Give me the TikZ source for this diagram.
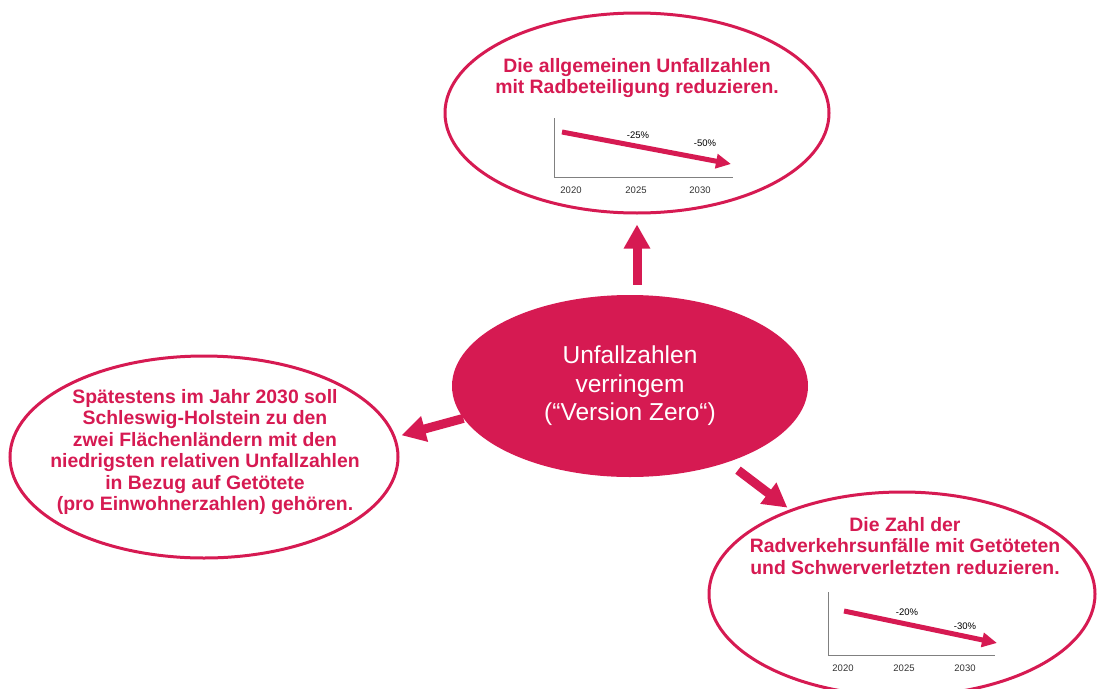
\documentclass[tikz,border=0pt]{standalone}
\usepackage{fontspec}
\setmainfont{Liberation Sans}
\usepackage{xcolor}
\usetikzlibrary{shapes.geometric}
\usetikzlibrary{positioning, arrows.meta}
\definecolor{unfallred}{RGB}{214,26,82}

\begin{document}
\begin{tikzpicture}[x=1pt,y=-1pt]
    % Define the styles
    \tikzstyle{goal}=[ellipse, draw=unfallred, line width=3pt, inner sep=0pt];
    \tikzstyle{goal text}=[text=unfallred, align=center, font=\bfseries\fontsize{19.4}{21.5}\selectfont];
    \tikzstyle{link}=[draw=unfallred, line width=9pt, -{Triangle[length=24pt,width=25pt]}];
    \tikzstyle{trend}=[draw=unfallred, line width=5pt, -{Triangle[length=15pt,width=14pt]}];
    \tikzstyle{axis}=[draw=gray, line width=0.8pt];
    \tikzstyle{year}=[text=black!80, font=\fontsize{9.5}{11}\selectfont];
    \tikzstyle{percent}=[text=black, font=\fontsize{9.5}{11}\selectfont];

    \useasboundingbox (0,0) rectangle (1097,688);

    % Central goal
    \node[ellipse, fill=unfallred, inner sep=0pt, minimum width=356pt, minimum height=182pt,
          text=white, align=center, font=\fontsize{24.5}{28.5}\selectfont]
          (zero) at (630,386) {Unfallzahlen\\verringem\\(“Version Zero“)};

    % Sub goals
    \node[goal, minimum width=384pt, minimum height=200pt] (allg) at (637,113) {};
    \node[goal text] (allg text) at (637,78) {Die allgemeinen Unfallzahlen\\mit Radbeteiligung reduzieren.};

    \node[goal, minimum width=388pt, minimum height=202pt] (land) at (204,457) {};
    \node[goal text] (land text) at (205,452)
        {Spätestens im Jahr 2030 soll\\Schleswig-Holstein zu den\\zwei Flächenländern mit den\\niedrigsten relativen Unfallzahlen\\in Bezug auf Getötete\\(pro Einwohnerzahlen) gehören.};

    \node[goal, minimum width=386pt, minimum height=204pt] (schwer) at (902,594) {};
    \node[goal text] (schwer text) at (905,546) {Die Zahl der\\Radverkehrsunfälle mit Getöteten\\und Schwerverletzten reduzieren.};

    % Arrows from the central goal
    \draw[link, shorten <=10pt, shorten >=10pt] (zero.north -| allg.south) -- (allg.south);
    \draw[link, shorten >=6pt] (zero.191) -- (land.6);
    \draw[link, shorten <=13pt, shorten >=3pt] (zero.-38) -- (schwer.143);

    % Chart: general accidents
    \coordinate (a0) at (554,177);
    \draw[axis] (554,118) -- (a0) -- (733,177);
    \coordinate (a start) at (562,132);
    \coordinate (a end) at (731,164);
    \draw[trend] (a start) -- (a end);
    \node[percent] at (638,135) {-25\%};
    \node[percent] at (705,143) {-50\%};
    \foreach \x/\yr in {571/2020, 636/2025, 700/2030}
        \node[year] at (\x,190) {\yr};

    % Chart: killed and seriously injured
    \coordinate (s0) at (828,655);
    \draw[axis] (828,592) -- (s0) -- (995,655);
    \coordinate (s start) at (844,611);
    \coordinate (s end) at (997,643);
    \draw[trend] (s start) -- (s end);
    \node[percent] at (907,612) {-20\%};
    \node[percent] at (965,626) {-30\%};
    \foreach \x/\yr in {843/2020, 904/2025, 965/2030}
        \node[year] at (\x,668) {\yr};

\end{tikzpicture}
\end{document}
